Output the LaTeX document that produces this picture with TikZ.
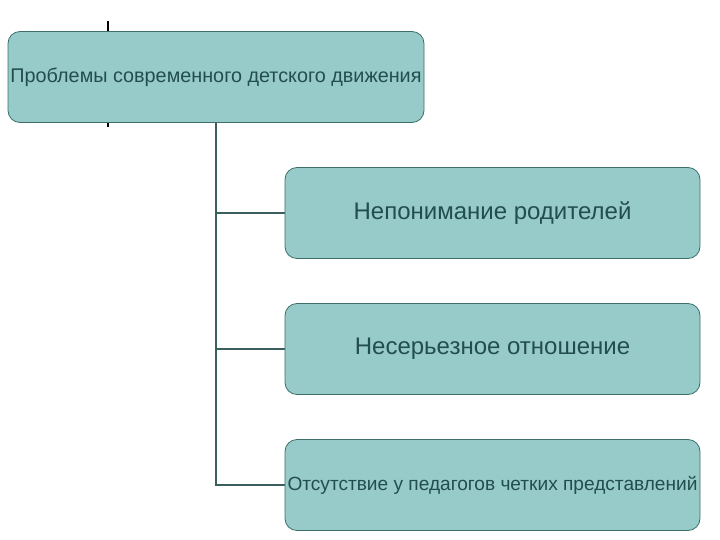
\documentclass[tikz,border=0pt]{standalone}
\usepackage{fontspec}
\setmainfont{Liberation Sans}
\definecolor{boxfill}{RGB}{150,203,201}
\definecolor{boxline}{RGB}{62,110,107}
\definecolor{conn}{RGB}{58,95,92}
\definecolor{txt}{RGB}{35,78,78}
\begin{document}
\begin{tikzpicture}[x=1pt,y=-1pt,
  box/.style={draw=boxline, fill=boxfill, rounded corners=12pt, line width=0.8pt,
    minimum width=416pt, minimum height=91pt, inner sep=0pt, text=txt},
  conn/.style={draw=conn, line width=1.8pt}]
\useasboundingbox (0,0) rectangle (720,540);
\draw[line width=2.2pt, black] (108,21) -- (108,31);
\draw[line width=2.2pt, black] (108,123) -- (108,127);
\node[box, font=\fontsize{19.8}{22}\selectfont, minimum width=416pt] (top) at (216,77) {Проблемы современного детского движения};
\node[box, font=\fontsize{24}{27}\selectfont, minimum width=415pt] (c1) at (492.5,213) {Непонимание родителей};
\node[box, font=\fontsize{24}{27}\selectfont, minimum width=415pt] (c2) at (492.5,349) {Несерьезное отношение};
\node[box, font=\fontsize{19.1}{22}\selectfont, minimum width=415pt] (c3) at (492.5,485) {Отсутствие у педагогов четких представлений};
\coordinate (j1) at (216,213);
\coordinate (j2) at (216,349);
\coordinate (j3) at (216,485);
\draw[conn] (top.south -| j1) -- (j3) -- (c3.west);
\draw[conn] (j1) -- (c1.west);
\draw[conn] (j2) -- (c2.west);
\end{tikzpicture}
\end{document}
